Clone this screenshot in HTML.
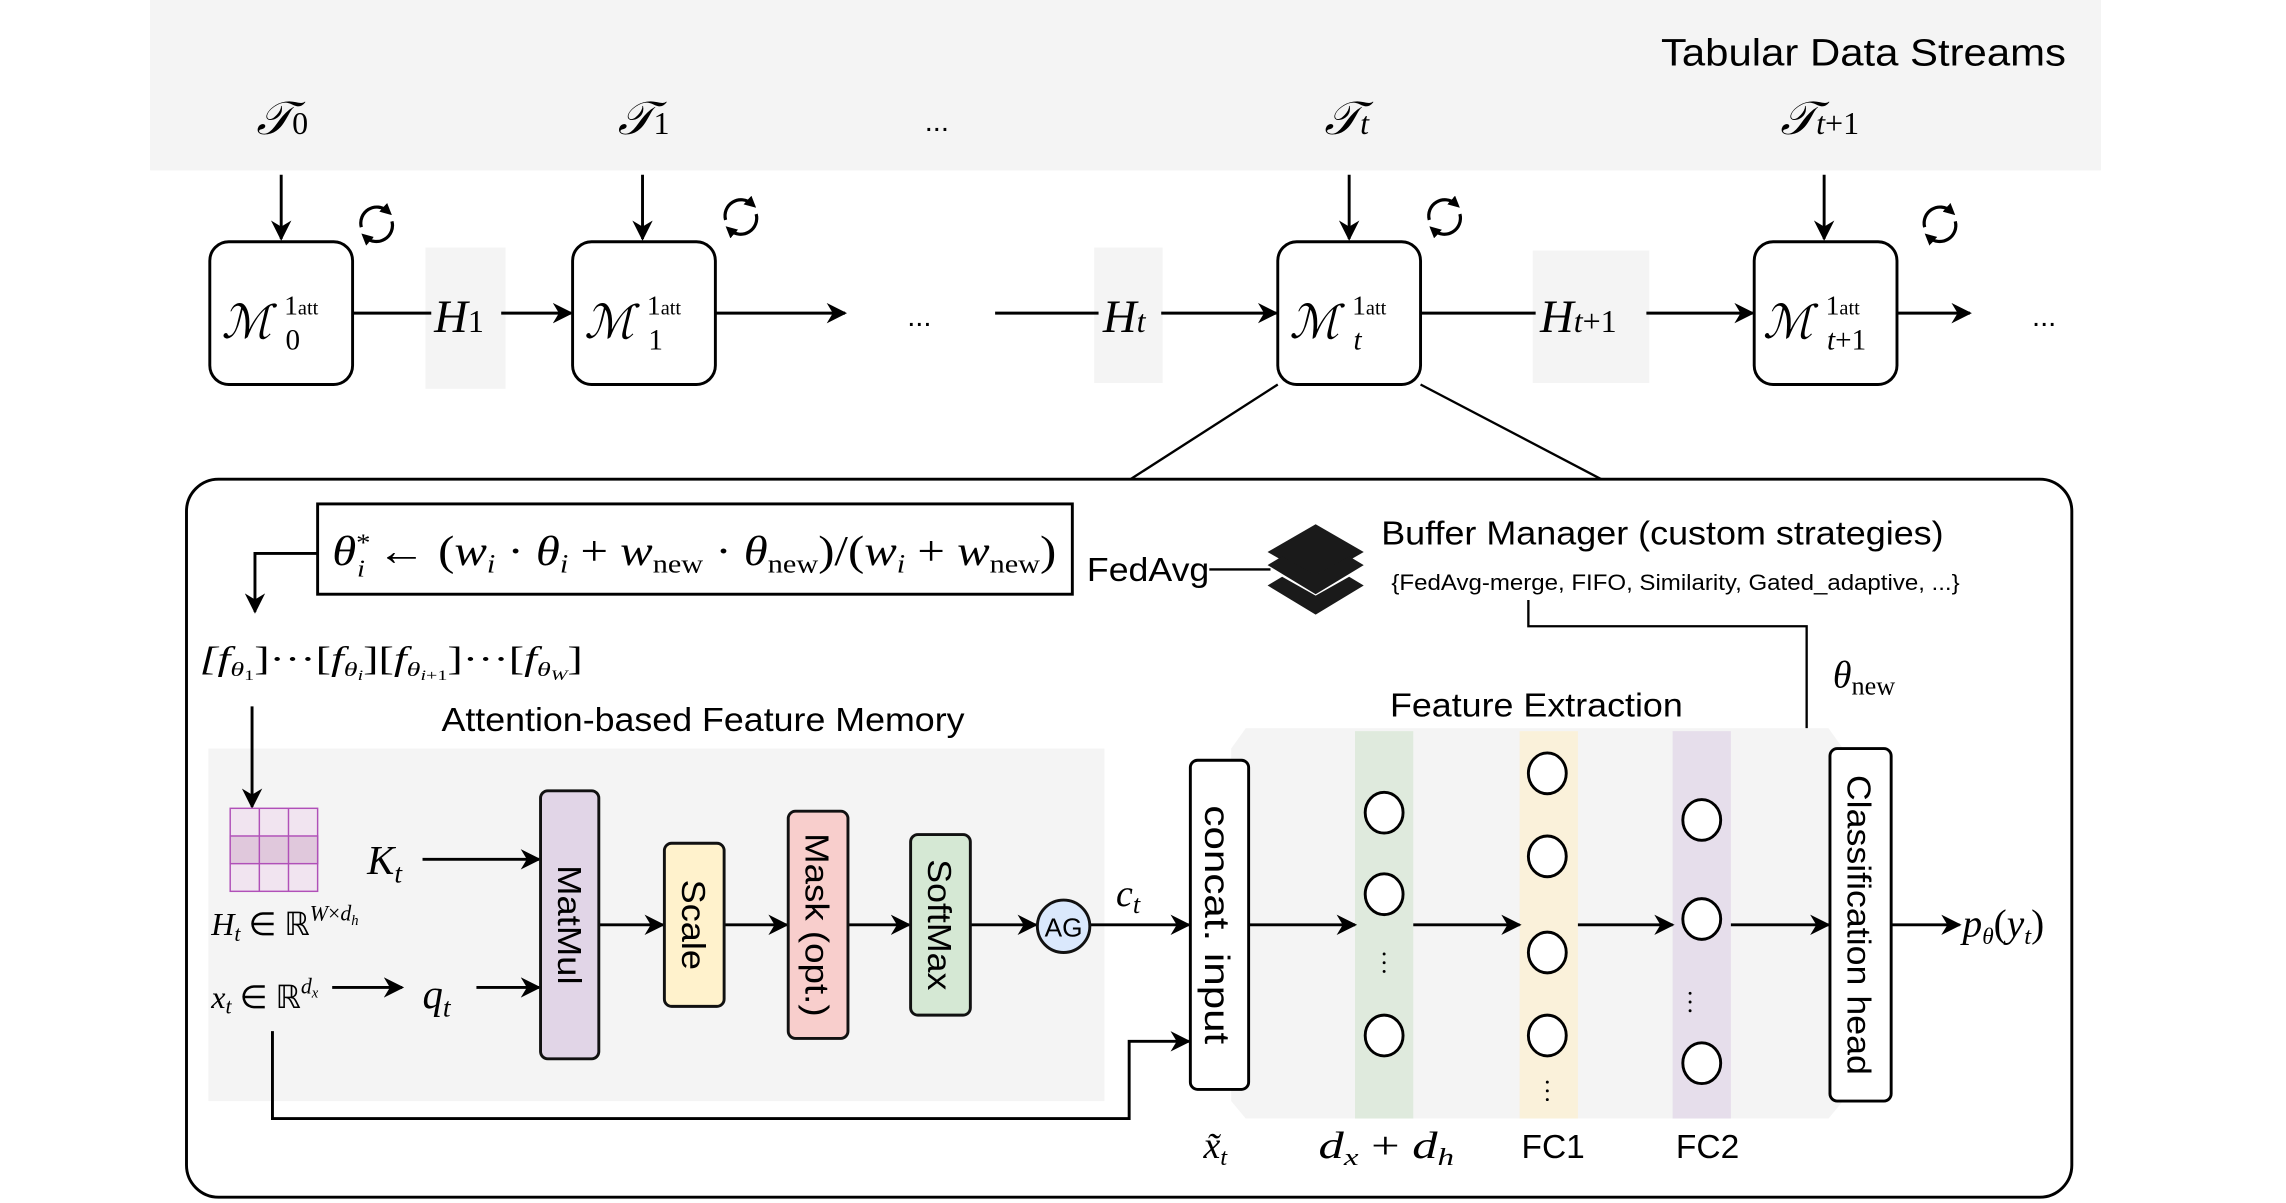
<!DOCTYPE html>
<html><head><meta charset="utf-8"><style>
html,body{margin:0;padding:0;background:#fff;}
svg{display:block}
.m{font-family:"Liberation Serif",serif;font-style:italic}
.s{font-family:"Liberation Sans",sans-serif}
</style></head><body>
<svg width="2286" height="1203" viewBox="0 0 1569 826" preserveAspectRatio="none" xmlns="http://www.w3.org/2000/svg">
<defs>
<marker id="b" viewBox="0 0 10 10" refX="9" refY="5" markerWidth="14" markerHeight="14" orient="auto" markerUnits="userSpaceOnUse"><path d="M0,0 L10,5 L0,10 L3,5z" fill="#000"/></marker>
<marker id="c" viewBox="0 0 10 10" refX="5" refY="5" markerWidth="8" markerHeight="8" orient="auto" markerUnits="userSpaceOnUse"><path d="M0,0 L10,5 L0,10z" fill="#000"/></marker>
</defs>
<rect x="103" y="0" width="1339" height="117" fill="#f4f4f4"/>
<text x="1140" y="45" class="s" font-size="26" textLength="278" lengthAdjust="spacingAndGlyphs">Tabular Data Streams</text>
<g class="m" font-size="32">
<text x="176" y="92">𝒯<tspan font-size="22" font-style="normal">0</tspan></text>
<text x="424" y="92">𝒯<tspan font-size="22" font-style="normal">1</tspan></text>
<text x="909" y="92">𝒯<tspan font-size="22">t</tspan></text>
<text x="1222" y="92">𝒯<tspan font-size="22">t</tspan><tspan font-size="22" font-style="normal">+1</tspan></text>
</g>
<text x="643" y="90" text-anchor="middle" font-size="20" class="s">...</text>
<g stroke="#000" stroke-width="2" fill="none">
<line x1="193" y1="120" x2="193" y2="164" marker-end="url(#b)"/>
<line x1="441" y1="120" x2="441" y2="164" marker-end="url(#b)"/>
<line x1="926" y1="120" x2="926" y2="164" marker-end="url(#b)"/>
<line x1="1252" y1="120" x2="1252" y2="164" marker-end="url(#b)"/>
</g>
<g stroke="#000" stroke-width="2.2" fill="none">
<path d="M248,156 A11,11 0 0 1 266,145" marker-end="url(#c)"/><path d="M269,152 A11,11 0 0 1 251,163" marker-end="url(#c)"/>
<path d="M498,151 A11,11 0 0 1 516,140" marker-end="url(#c)"/><path d="M519,147 A11,11 0 0 1 501,158" marker-end="url(#c)"/>
<path d="M981,151 A11,11 0 0 1 999,140" marker-end="url(#c)"/><path d="M1002,147 A11,11 0 0 1 984,158" marker-end="url(#c)"/>
<path d="M1321,156 A11,11 0 0 1 1339,145" marker-end="url(#c)"/><path d="M1342,152 A11,11 0 0 1 1324,163" marker-end="url(#c)"/>
</g>
<g fill="#f4f4f4"><rect x="292" y="170" width="55" height="97"/><rect x="751" y="170" width="47" height="93"/><rect x="1052" y="172" width="80" height="91"/></g>
<g stroke="#000" stroke-width="2" fill="none">
<line x1="242" y1="215" x2="296" y2="215"/><line x1="344" y1="215" x2="392" y2="215" marker-end="url(#b)"/>
<line x1="491" y1="215" x2="580" y2="215" marker-end="url(#b)"/>
<line x1="683" y1="215" x2="754" y2="215"/><line x1="797" y1="215" x2="876" y2="215" marker-end="url(#b)"/>
<line x1="975" y1="215" x2="1054" y2="215"/><line x1="1130" y1="215" x2="1203" y2="215" marker-end="url(#b)"/>
<line x1="1302" y1="215" x2="1352" y2="215" marker-end="url(#b)"/>
<rect x="144" y="166" width="98" height="98" rx="13" fill="#fff"/>
<rect x="393" y="166" width="98" height="98" rx="13" fill="#fff"/>
<rect x="877" y="166" width="98" height="98" rx="13" fill="#fff"/>
<rect x="1204" y="166" width="98" height="98" rx="13" fill="#fff"/>
<line x1="877" y1="264" x2="776" y2="329" stroke-width="1.6"/>
<line x1="975" y1="264" x2="1099" y2="329" stroke-width="1.6"/>
</g>
<g class="m" font-size="32">
<text x="152" y="232">ℳ</text><text x="195" y="216" font-size="19" font-style="normal">1<tspan font-size="14">att</tspan></text><text x="196" y="240" font-size="20" font-style="normal">0</text>
<text x="401" y="232">ℳ</text><text x="444" y="216" font-size="19" font-style="normal">1<tspan font-size="14">att</tspan></text><text x="445" y="240" font-size="20" font-style="normal">1</text>
<text x="885" y="232">ℳ</text><text x="928" y="216" font-size="19" font-style="normal">1<tspan font-size="14">att</tspan></text><text x="929" y="240" font-size="20">t</text>
<text x="1210" y="232">ℳ</text><text x="1253" y="216" font-size="19" font-style="normal">1<tspan font-size="14">att</tspan></text><text x="1254" y="240" font-size="20">t<tspan font-style="normal">+1</tspan></text>
<text x="298" y="228">H<tspan font-size="22" font-style="normal">1</tspan></text>
<text x="757" y="228">H<tspan font-size="22">t</tspan></text>
<text x="1057" y="228">H<tspan font-size="22">t</tspan><tspan font-size="22" font-style="normal">+1</tspan></text>
</g>
<text x="631" y="224" text-anchor="middle" font-size="20" class="s">...</text>
<text x="1403" y="224" text-anchor="middle" font-size="20" class="s">...</text>
<rect x="128" y="329" width="1294" height="493" rx="22" fill="#fff" stroke="#000" stroke-width="2"/>
<rect x="218" y="346" width="518" height="62" fill="#fff" stroke="#000" stroke-width="2"/>
<text x="228" y="388" class="m" font-size="29" textLength="497" lengthAdjust="spacingAndGlyphs">θ<tspan font-size="17" dy="-10" font-style="normal">*</tspan><tspan font-size="17" dx="-8" dy="18">i</tspan><tspan dy="-8" font-style="normal"> ← (</tspan>w<tspan font-size="18" dy="5">i</tspan><tspan dy="-5" font-style="normal"> · </tspan>θ<tspan font-size="18" dy="5">i</tspan><tspan dy="-5" font-style="normal"> + </tspan>w<tspan font-size="18" dy="5" font-style="normal">new</tspan><tspan dy="-5" font-style="normal"> · </tspan>θ<tspan font-size="18" dy="5" font-style="normal">new</tspan><tspan dy="-5" font-style="normal">)/(</tspan>w<tspan font-size="18" dy="5">i</tspan><tspan dy="-5" font-style="normal"> + </tspan>w<tspan font-size="18" dy="5" font-style="normal">new</tspan><tspan dy="-5" font-style="normal">)</tspan></text>
<text x="746" y="399" class="s" font-size="23" textLength="84" lengthAdjust="spacingAndGlyphs">FedAvg</text>
<line x1="830" y1="391" x2="872" y2="391" stroke="#000" stroke-width="1.6"/>
<g fill="#1a1a1a">
<path d="M903,360 L936,379 L903,398 L870,379z"/>
<path d="M870,388 L880,382 L903,395 L926,382 L936,388 L903,408z"/>
<path d="M870,402 L880,396 L903,409 L926,396 L936,402 L903,422z"/>
</g>
<text x="948" y="374" class="s" font-size="23" textLength="386" lengthAdjust="spacingAndGlyphs">Buffer Manager (custom strategies)</text>
<text x="955" y="405" class="s" font-size="15" textLength="390" lengthAdjust="spacingAndGlyphs">{FedAvg-merge, FIFO, Similarity, Gated_adaptive, ...}</text>
<path d="M1049,412 V430 H1240 V500" stroke="#000" stroke-width="1.6" fill="none"/>
<text x="1258" y="472" class="m" font-size="26">θ<tspan font-size="18" font-style="normal" dy="5">new</tspan></text>
<path d="M218,380 H175 V420" stroke="#000" stroke-width="2" fill="none" marker-end="url(#b)"/>
<text x="137" y="460" class="m" font-size="23" textLength="263" lengthAdjust="spacingAndGlyphs">[f<tspan font-size="14" dy="4">θ</tspan><tspan font-size="10" dy="3" font-style="normal">1</tspan><tspan dy="-7" font-style="normal">]···[</tspan>f<tspan font-size="14" dy="4">θ</tspan><tspan font-size="10" dy="3">i</tspan><tspan dy="-7" font-style="normal">][</tspan>f<tspan font-size="14" dy="4">θ</tspan><tspan font-size="10" dy="3">i</tspan><tspan font-size="10" font-style="normal">+1</tspan><tspan dy="-7" font-style="normal">]···[</tspan>f<tspan font-size="14" dy="4">θ</tspan><tspan font-size="10" dy="3">W</tspan><tspan dy="-7" font-style="normal">]</tspan></text>
<text x="303" y="502" class="s" font-size="23" textLength="359" lengthAdjust="spacingAndGlyphs">Attention-based Feature Memory</text>
<rect x="143" y="514" width="615" height="242" fill="#f4f4f4"/>
<line x1="173" y1="485" x2="173" y2="554" stroke="#000" stroke-width="2" marker-end="url(#b)"/>
<g stroke="#b050b8" stroke-width="1">
<rect x="158" y="555" width="60" height="57" fill="#f1e4f0"/>
<rect x="158" y="574" width="60" height="19" fill="#e0c8dc"/>
<line x1="178" y1="555" x2="178" y2="612"/><line x1="198" y1="555" x2="198" y2="612"/>
</g>
<text x="145" y="642" class="m" font-size="22">H<tspan font-size="15" dy="4">t</tspan><tspan dy="-4" font-style="normal"> ∈ ℝ</tspan><tspan font-size="15" dy="-10">W</tspan><tspan font-size="15" font-style="normal">×</tspan><tspan font-size="15">d</tspan><tspan font-size="10" dy="3">h</tspan></text>
<text x="252" y="600" class="m" font-size="28">K<tspan font-size="19" dy="6">t</tspan></text>
<text x="145" y="692" class="m" font-size="22">x<tspan font-size="15" dy="4">t</tspan><tspan dy="-4" font-style="normal"> ∈ ℝ</tspan><tspan font-size="15" dy="-10">d</tspan><tspan font-size="10" dy="3">x</tspan></text>
<text x="290" y="692" class="m" font-size="28">q<tspan font-size="19" dy="6">t</tspan></text>
<g stroke="#000" stroke-width="2" fill="none">
<line x1="290" y1="590" x2="370" y2="590" marker-end="url(#b)"/>
<line x1="228" y1="678" x2="276" y2="678" marker-end="url(#b)"/>
<line x1="327" y1="678" x2="370" y2="678" marker-end="url(#b)"/>
<line x1="411" y1="635" x2="455" y2="635" marker-end="url(#b)"/>
<line x1="497" y1="635" x2="540" y2="635" marker-end="url(#b)"/>
<line x1="582" y1="635" x2="624" y2="635" marker-end="url(#b)"/>
<line x1="666" y1="635" x2="711" y2="635" marker-end="url(#b)"/>
<line x1="748" y1="635" x2="816" y2="635" marker-end="url(#b)"/>
<path d="M187,708 V768 H775 V715 H816" marker-end="url(#b)"/>
</g>
<g stroke="#111" stroke-width="2">
<rect x="371" y="543" width="40" height="184" rx="5" fill="#e1d5e7"/>
<rect x="456" y="579" width="41" height="112" rx="5" fill="#fff2cc"/>
<rect x="541" y="557" width="41" height="156" rx="5" fill="#f8cecc"/>
<rect x="625" y="573" width="41" height="124" rx="5" fill="#d5e8d4"/>
<circle cx="730" cy="636" r="18" fill="#dae8fc"/>
</g>
<g class="s" font-size="23" text-anchor="middle">
<text transform="translate(383,635) rotate(90)" textLength="82" lengthAdjust="spacingAndGlyphs">MatMul</text>
<text transform="translate(468,635) rotate(90)" textLength="62" lengthAdjust="spacingAndGlyphs">Scale</text>
<text transform="translate(553,635) rotate(90)" textLength="126" lengthAdjust="spacingAndGlyphs">Mask (opt.)</text>
<text transform="translate(637,635) rotate(90)" textLength="90" lengthAdjust="spacingAndGlyphs">SoftMax</text>
</g>
<text x="730" y="643" class="s" font-size="18" text-anchor="middle">AG</text>
<text x="766" y="622" class="m" font-size="26">c<tspan font-size="18" dy="5">t</tspan></text>
<text x="954" y="492" class="s" font-size="23" textLength="201" lengthAdjust="spacingAndGlyphs">Feature Extraction</text>
<path d="M855,500 H1255 L1265,514 V756 L1255,768 H855 L845,756 V514z" fill="#f4f4f4"/>
<rect x="930" y="502" width="40" height="266" fill="#dfeadd"/>
<rect x="1043" y="502" width="40" height="266" fill="#faf1da"/>
<rect x="1148" y="502" width="40" height="266" fill="#e6deeb"/>
<rect x="817" y="522" width="40" height="226" rx="5" fill="#fff" stroke="#000" stroke-width="2"/>
<text transform="translate(827,635) rotate(90)" class="s" font-size="24" text-anchor="middle" textLength="164" lengthAdjust="spacingAndGlyphs">concat. input</text>
<rect x="1256" y="514" width="42" height="242" rx="5" fill="#fff" stroke="#000" stroke-width="2"/>
<text transform="translate(1268,635) rotate(90)" class="s" font-size="23" text-anchor="middle" textLength="206" lengthAdjust="spacingAndGlyphs">Classification head</text>
<g fill="#fff" stroke="#000" stroke-width="2">
<ellipse cx="950" cy="558" rx="13" ry="14"/><ellipse cx="950" cy="614" rx="13" ry="14"/><ellipse cx="950" cy="711" rx="13" ry="14"/>
<ellipse cx="1062" cy="531" rx="13" ry="14"/><ellipse cx="1062" cy="588" rx="13" ry="14"/><ellipse cx="1062" cy="654" rx="13" ry="14"/><ellipse cx="1062" cy="711" rx="13" ry="14"/>
<ellipse cx="1168" cy="563" rx="13" ry="14"/><ellipse cx="1168" cy="631" rx="13" ry="14"/><ellipse cx="1168" cy="730" rx="13" ry="14"/>
</g>
<g fill="#000"><circle cx="950" cy="655" r="1"/><circle cx="950" cy="661" r="1"/><circle cx="950" cy="667" r="1"/>
<circle cx="1062" cy="743" r="1"/><circle cx="1062" cy="749" r="1"/><circle cx="1062" cy="755" r="1"/>
<circle cx="1160" cy="682" r="1"/><circle cx="1160" cy="688" r="1"/><circle cx="1160" cy="694" r="1"/></g>
<g stroke="#000" stroke-width="2">
<line x1="857" y1="635" x2="930" y2="635" marker-end="url(#b)"/>
<line x1="970" y1="635" x2="1043" y2="635" marker-end="url(#b)"/>
<line x1="1083" y1="635" x2="1148" y2="635" marker-end="url(#b)"/>
<line x1="1188" y1="635" x2="1255" y2="635" marker-end="url(#b)"/>
<line x1="1298" y1="635" x2="1345" y2="635" marker-end="url(#b)"/>
</g>
<text x="1347" y="643" class="m" font-size="27">p<tspan font-size="16" dy="5">θ</tspan><tspan dy="-5" font-style="normal">(</tspan>y<tspan font-size="17" dy="5">t</tspan><tspan dy="-5" font-style="normal">)</tspan></text>
<text x="826" y="795" class="m" font-size="26">x̃<tspan font-size="17" dy="5">t</tspan></text>
<text x="905" y="795" class="m" font-size="26" textLength="93" lengthAdjust="spacingAndGlyphs">d<tspan font-size="17" dy="5">x</tspan><tspan dy="-5" font-style="normal"> + </tspan>d<tspan font-size="17" dy="5">h</tspan></text>
<text x="1066" y="795" class="s" font-size="23" text-anchor="middle">FC1</text>
<text x="1172" y="795" class="s" font-size="23" text-anchor="middle">FC2</text>
</svg>
</body></html>
